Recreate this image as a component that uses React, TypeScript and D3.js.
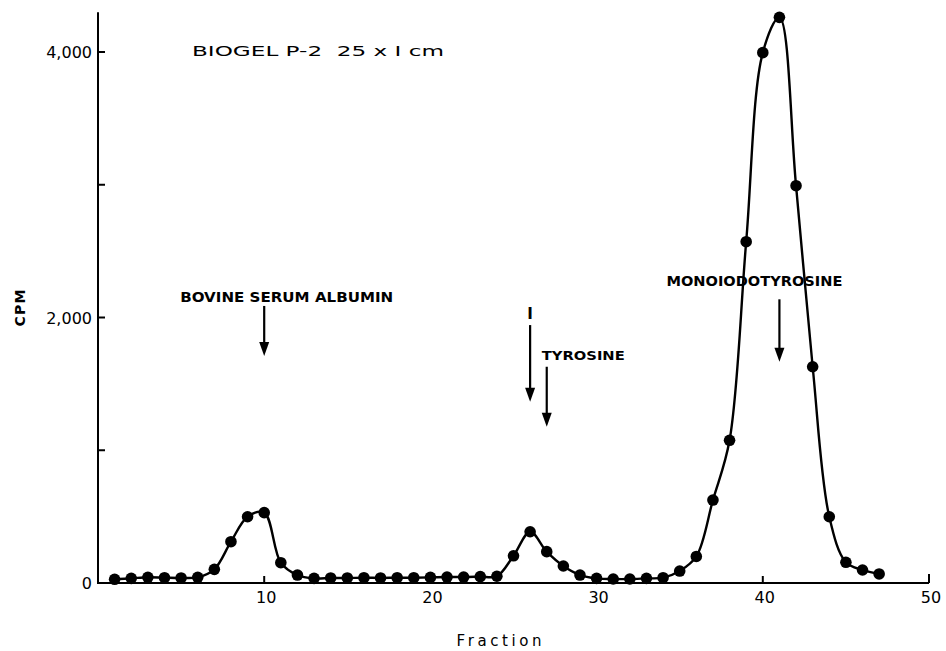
import React from "react";
import * as d3 from "d3";

// fraction number and counts per minute
const fractions = [
  1, 2, 3, 4, 5, 6, 7, 8, 9, 10, 11, 12, 13, 14, 15, 16, 17, 18, 19, 20, 21, 22, 23, 24,
  25, 26, 27, 28, 29, 30, 31, 32, 33, 34, 35, 36, 37, 38, 39, 40, 41, 42, 43, 44, 45, 46, 47,
];
const cpm = [
  28, 35, 43, 40, 38, 43, 103, 311, 499, 530, 153, 60, 35, 38, 38, 40, 38, 40, 40, 42, 45, 45, 48, 51,
  205, 386, 236, 128, 60, 35, 30, 30, 35, 40, 90, 200, 625, 1075, 2571, 3995, 4261, 2993, 1629, 499, 156, 98, 68,
];

const xTicks = [10, 20, 30, 40, 50];
const yTicks = [1000, 2000, 3000, 4000];
const yLabels = [0, 2000, 4000];

// marker arrows: where each standard elutes, arrow top and tip in CPM
const markerNames = ["BOVINE SERUM ALBUMIN", "I", "TYROSINE", "MONOIODOTYROSINE"];
const markerFractions = [10, 26, 27, 41];
const markerTop = [2087, 1943, 1629, 2137];
const markerTip = [1710, 1366, 1177, 1667];

const W = 946;
const H = 651;
const font = "'DejaVu Sans', sans-serif";

export default function App() {
  const x = d3.scaleLinear().domain([0, 50]).range([98, 929]);
  const y = d3.scaleLinear().domain([0, 4000]).range([583, 52]);

  const pts = fractions.map((f, i) => [f, cpm[i]] as [number, number]);
  const line = d3
    .line<[number, number]>()
    .x((d) => x(d[0]))
    .y((d) => y(d[1]))
    .curve(d3.curveCatmullRom.alpha(0.5));

  // text placement for each marker label (relative to arrow)
  const labelLayout = [
    { dx: -84, dy: -4, len: 213, size: 14, weight: 700, anchor: "start" },
    { dx: 0, dy: -6, len: 0, size: 15, weight: 700, anchor: "middle" },
    { dx: -5, dy: -7, len: 83, size: 13, weight: 700, anchor: "start" },
    { dx: -113, dy: -13, len: 176, size: 14, weight: 600, anchor: "start" },
  ];

  return (
    <svg
      width={W}
      height={H}
      style={{ position: "absolute", left: 0, top: 0, background: "#fff" }}
      fontFamily={font}
    >
      {/* axes */}
      <line x1={x(0)} x2={x(0)} y1={y(0) + 1} y2={y(4300)} stroke="#000" strokeWidth={2} />
      <line x1={x(0) - 1} x2={x(50)} y1={y(0)} y2={y(0)} stroke="#000" strokeWidth={2} />
      {yTicks.map((t) => (
        <line key={t} x1={x(0)} x2={x(0) + 7} y1={y(t)} y2={y(t)} stroke="#000" strokeWidth={2} />
      ))}
      {xTicks.map((t) => (
        <line key={t} x1={x(t)} x2={x(t)} y1={y(0)} y2={y(0) - (t === 50 ? 9 : 7)} stroke="#000" strokeWidth={2} />
      ))}
      {yLabels.map((t) => (
        <text key={t} x={x(0) - 6} y={y(t) + 6} textAnchor="end" fontSize={16}>
          {t === 0 ? "0" : d3.format(",")(t)}
        </text>
      ))}
      {xTicks.map((t) => (
        <text key={t} x={x(t) + 2} y={y(0) + 20} textAnchor="middle" fontSize={16}>
          {t}
        </text>
      ))}

      {/* axis titles */}
      <text x={499} y={646} textAnchor="middle" fontSize={15} fontWeight={500} textLength={85} lengthAdjust="spacing">
        Fraction
      </text>
      <text
        transform={`translate(25,308) rotate(-90)`}
        textAnchor="middle"
        fontSize={14}
        fontWeight={700}
        textLength={37}
        lengthAdjust="spacing"
      >
        CPM
      </text>
      <text x={192} y={56} fontSize={14} textLength={252} lengthAdjust="spacingAndGlyphs">
        BIOGEL P-2{"\u00a0\u00a0"}25 x I cm
      </text>

      {/* marker arrows */}
      {markerNames.map((name, i) => {
        const ax = x(markerFractions[i]);
        const top = y(markerTop[i]);
        const tip = y(markerTip[i]);
        const L = labelLayout[i];
        return (
          <g key={name}>
            <line x1={ax} x2={ax} y1={top} y2={tip - 10} stroke="#000" strokeWidth={2.2} />
            <path d={`M${ax - 5},${tip - 14} L${ax + 5},${tip - 14} L${ax},${tip} Z`} fill="#000" />
            <text
              x={ax + L.dx}
              y={top + L.dy}
              textAnchor={L.anchor as any}
              fontSize={L.size}
              fontWeight={L.weight}
              {...(L.len ? { textLength: L.len, lengthAdjust: "spacingAndGlyphs" } : {})}
            >
              {name}
            </text>
          </g>
        );
      })}

      {/* data */}
      <path d={line(pts) || ""} fill="none" stroke="#000" strokeWidth={2.4} />
      {pts.map((d) => (
        <circle key={d[0]} cx={x(d[0])} cy={y(d[1])} r={5.8} fill="#000" />
      ))}
    </svg>
  );
}
